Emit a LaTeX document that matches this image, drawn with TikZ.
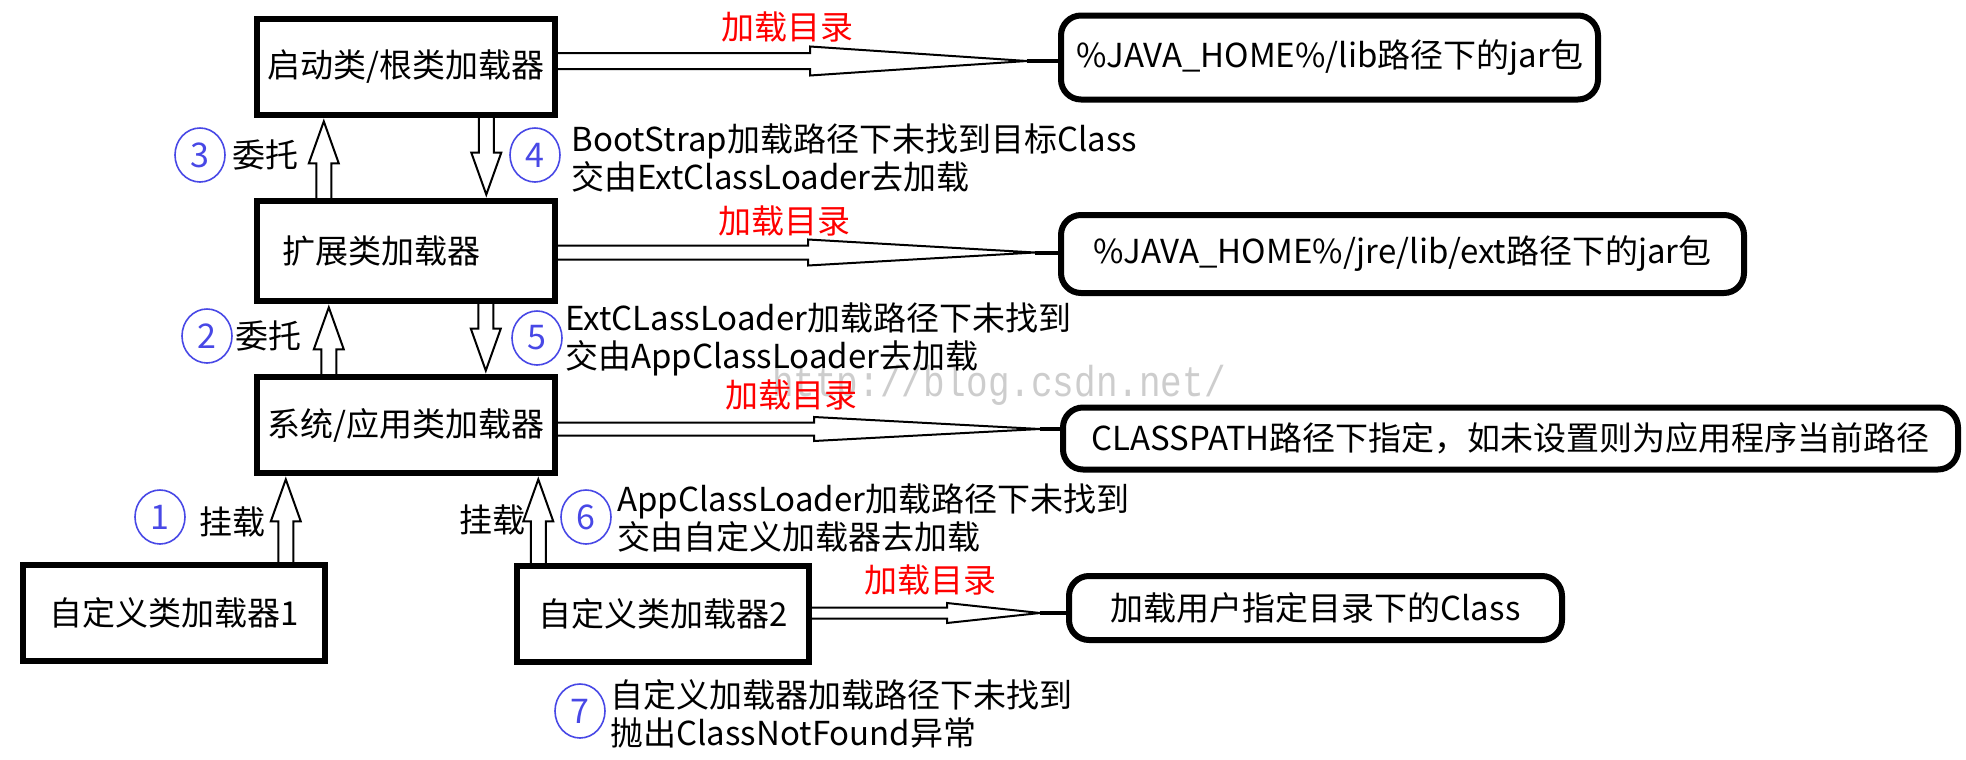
\documentclass[tikz,border=0pt]{standalone}
\usepackage{fontspec}
\setmainfont{Noto Sans CJK SC}
\newfontfamily\wmfont{Liberation Mono}
\usetikzlibrary{calc,shapes.geometric}
\definecolor{numblue}{RGB}{72,72,230}
\definecolor{wmgray}{RGB}{205,205,205}
\tikzset{
  box/.style={draw, line width=3.2pt, minimum width=149pt, minimum height=48pt, inner sep=0pt,
              font=\fontsize{16.5}{19}\selectfont},
  rbox/.style={draw, line width=3pt, rounded corners=10pt, inner sep=0pt,
              font=\fontsize{16.5}{19}\selectfont},
  txt/.style={inner sep=0pt, font=\fontsize{16.5}{19}\selectfont},
  note/.style={txt, anchor=west, align=left},
  redl/.style={txt, text=red},
  num/.style={ellipse, draw=numblue, line width=0.8pt, minimum width=25pt, minimum height=27pt,
              inner sep=0pt, text=numblue, font=\fontsize{17}{17}\selectfont},
  wm/.style={inner sep=0pt, text=wmgray, font=\wmfont\fontsize{18}{18}\selectfont, yscale=1.2},
  arrline/.style={draw, line width=1pt, line join=miter},
  conn/.style={draw, line width=2pt}
}
% up arrow: #1 base anchor (y), #2 tip anchor (x ref and y), #3 dx in px
\newcommand\myup[3]{%
  \draw[arrline] let \p1=(#1), \p2=(#2) in
    ({\x2+(#3)*0.5pt-3.75pt},\y1) -- ({\x2+(#3)*0.5pt-3.75pt},{\y2-22.6pt})
    -- ({\x2+(#3)*0.5pt-7.5pt},{\y2-22.6pt}) -- ({\x2+(#3)*0.5pt},{\y2-1.6pt})
    -- ({\x2+(#3)*0.5pt+7.5pt},{\y2-22.6pt}) -- ({\x2+(#3)*0.5pt+3.75pt},{\y2-22.6pt})
    -- ({\x2+(#3)*0.5pt+3.75pt},\y1);}
% down arrow: #1 base anchor (x ref and y), #2 tip anchor (y), #3 dx in px
\newcommand\mydown[3]{%
  \draw[arrline] let \p1=(#1), \p2=(#2) in
    ({\x1+(#3)*0.5pt-3.75pt},\y1) -- ({\x1+(#3)*0.5pt-3.75pt},{\y2+22.6pt})
    -- ({\x1+(#3)*0.5pt-7.5pt},{\y2+22.6pt}) -- ({\x1+(#3)*0.5pt},{\y2+1.6pt})
    -- ({\x1+(#3)*0.5pt+7.5pt},{\y2+22.6pt}) -- ({\x1+(#3)*0.5pt+3.75pt},{\y2+22.6pt})
    -- ({\x1+(#3)*0.5pt+3.75pt},\y1);}
% right arrow: #1 from, #2 to, #3 y px, #4 head start px, #5 tip px, #6 shaft half px, #7 head half px
\newcommand\myright[7]{%
  \draw[arrline] let \p1=(#1) in
    (\x1,{-(#3-#6)*0.5pt}) -- ({#4*0.5pt},{-(#3-#6)*0.5pt}) -- ({#4*0.5pt},{-(#3-#7)*0.5pt})
    -- ({#5*0.5pt},{-(#3)*0.5pt}) -- ({#4*0.5pt},{-(#3+#7)*0.5pt}) -- ({#4*0.5pt},{-(#3+#6)*0.5pt})
    -- (\x1,{-(#3+#6)*0.5pt});
  \draw[conn] let \p2=(#2) in ({#5*0.5pt},{-(#3)*0.5pt}) -- (\x2,{-(#3)*0.5pt});}
\begin{document}
\begin{tikzpicture}[x=0.5pt,y=-0.5pt]
\useasboundingbox[fill=white] (0,0) rectangle (1966,760);
% watermark
\node[wm] (wm) at (999,385) {http://blog.csdn.net/};
% square boxes
\node[box] (A) at (406,67) {启动类/根类加载器};
\node[box, minimum height=50pt] (B) at (406,251) {\kern-25pt 扩展类加载器};
\node[box] (C) at (406,425) {系统/应用类加载器};
\node[box, minimum width=151pt] (D) at (174,613) {自定义类加载器1};
\node[box, minimum width=146pt] (E) at (663,614) {自定义类加载器2};
% rounded boxes
\node[rbox, minimum width=268.5pt, minimum height=42pt] (R1) at (1329.5,57.5) {\%JAVA\_HOME\%/lib路径下的jar包};
\node[rbox, minimum width=341.5pt, minimum height=39pt] (R2) at (1402.5,254) {\%JAVA\_HOME\%/jre/lib/ext路径下的jar包};
\node[rbox, minimum width=447.5pt, minimum height=31pt] (R3) at (1510.5,438.5) {CLASSPATH路径下指定，如未设置则为应用程序当前路径};
\node[rbox, minimum width=246.5pt, minimum height=32pt] (R4) at (1315.5,608) {加载用户指定目录下的Class};
% red labels
\node[redl] (l1) at (787,27) {加载目录};
\node[redl] (l2) at (784,221) {加载目录};
\node[redl] (l3) at (791,395) {加载目录};
\node[redl] (l4) at (930,580) {加载目录};
% circled numbers
\node[num] (c3) at (200,155) {3};
\node[num] (c4) at (535,155) {4};
\node[num] (c2) at (207,336) {2};
\node[num] (c5) at (537,338) {5};
\node[num] (c1) at (160,517) {1};
\node[num] (c6) at (586,517) {6};
\node[num] (c7) at (580,711) {7};
% short labels
\node[txt] (t3) at (265,155) {委托};
\node[txt] (t2) at (268,336) {委托};
\node[txt] (t1) at (232,522) {挂载};
\node[txt] (t6) at (492,520) {挂载};
% notes
\node[note] (n4) at (571,158) {BootStrap加载路径下未找到目标Class\\交由ExtClassLoader去加载};
\node[note] (n5) at (565,339) {ExtCLassLoader加载路径下未找到\\交由AppClassLoader去加载};
\node[note] (n6) at (617,517.5) {AppClassLoader加载路径下未找到\\交由自定义加载器去加载};
\node[note] (n7) at (610,714) {自定义加载器加载路径下未找到\\抛出ClassNotFound异常};
% vertical hollow arrows
\myup{B.north}{A.south west}{70}
\mydown{A.south west}{B.north}{232.5}
\myup{C.north}{B.south west}{75}
\mydown{B.south west}{C.north}{232}
\myup{D.north}{C.south west}{32}
\myup{E.north}{C.south west}{284.5}
% horizontal hollow arrows
\myright{A.east}{R1.west}{61}{810}{1027}{8}{14.5}
\myright{B.east}{R2.west}{252.5}{808}{1035}{7}{13}
\myright{C.east}{R3.west}{429}{814}{1040}{6.5}{12}
\myright{E.east}{R4.west}{613}{947}{1040}{5.5}{10}
\end{tikzpicture}
\end{document}
